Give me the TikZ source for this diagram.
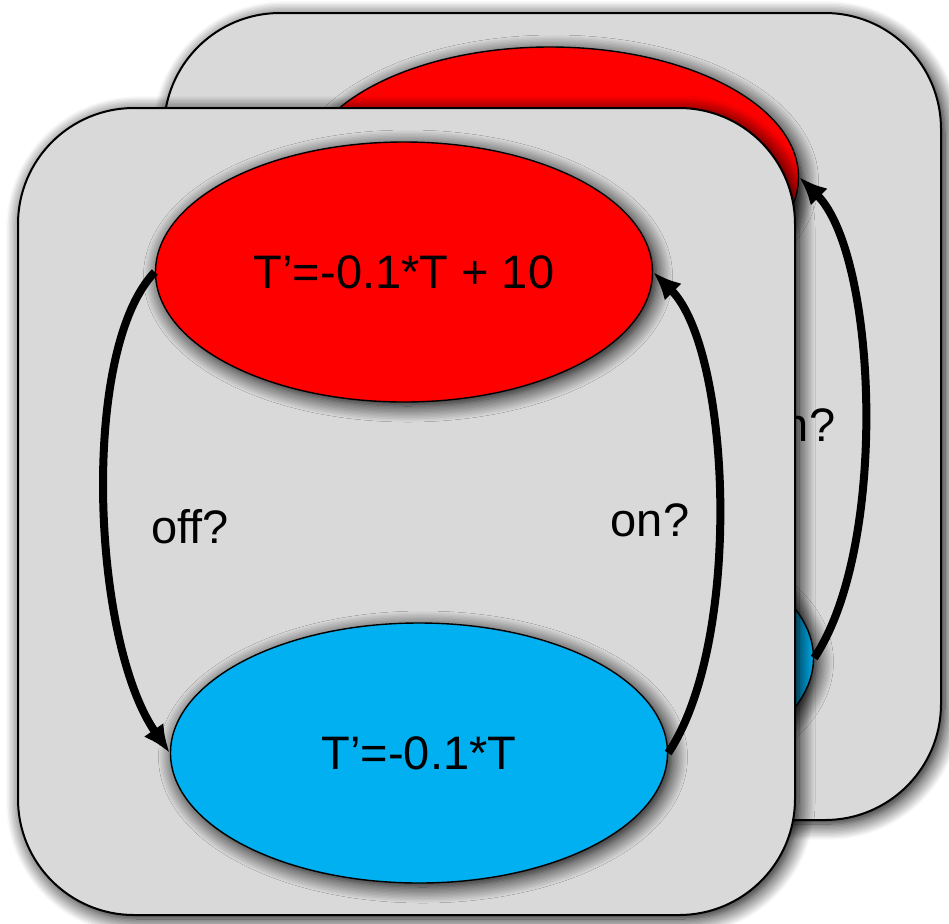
\documentclass[tikz,border=0pt]{standalone}
\usepackage{fontspec}
\setmainfont{Liberation Sans}
\usepackage{xcolor}
\usetikzlibrary{arrows.meta,positioning,shapes.geometric,shadows.blur}

\definecolor{panelgray}{HTML}{D9D9D9}
\definecolor{heatred}{HTML}{FF0000}
\definecolor{coolblue}{HTML}{00B0F0}

\begin{document}
\begin{tikzpicture}[
  x=0.5pt, y=-0.5pt,
  soft/.style={blur shadow={shadow xshift=2pt, shadow yshift=-2pt, shadow blur radius=8pt, shadow blur steps=12, shadow opacity=100}},
  panel/.style={draw, line width=1pt, fill=panelgray, rounded corners=58pt, minimum width=388.5pt, minimum height=403.5pt, soft},
  state/.style={ellipse, draw, line width=0.7pt, minimum width=248.5pt, minimum height=130pt, font=\fontsize{23.5}{28}\selectfont, soft},
  arr/.style={-{Latex[length=14pt,width=12pt]}, line width=4pt},
  lbl/.style={font=\fontsize{23.5}{28}\selectfont}
]
  \useasboundingbox (0,0) rectangle (949,923);

  % second copy, behind
  \node[panel] (back) at (552.5,416.5) {};
  \node[state, fill=heatred] (heatB) at (550,177) {};
  \node[state, fill=coolblue] (coolB) at (565,658) {};
  \draw[arr] (coolB.east) .. controls +(75,-112) and +(78,78) .. (heatB.east);
  \node[lbl] (onB) at (796,425) {on?};

  % front copy
  \node[panel] (front) at (406.5,511.5) {};
  \node[state, fill=heatred] (heat) at (404,272) {T’=-0.1*T + 10};
  \node[state, fill=coolblue] (cool) at (419,753) {T’=-0.1*T};

  \draw[arr] (heat.west) .. controls +(-75,78) and +(-78,-112) .. (cool.west);
  \draw[arr] (cool.east) .. controls +(75,-112) and +(78,78) .. (heat.east);
  \node[lbl] (off) at (190,527) {off?};
  \node[lbl] (on) at (650,520) {on?};
\end{tikzpicture}
\end{document}
